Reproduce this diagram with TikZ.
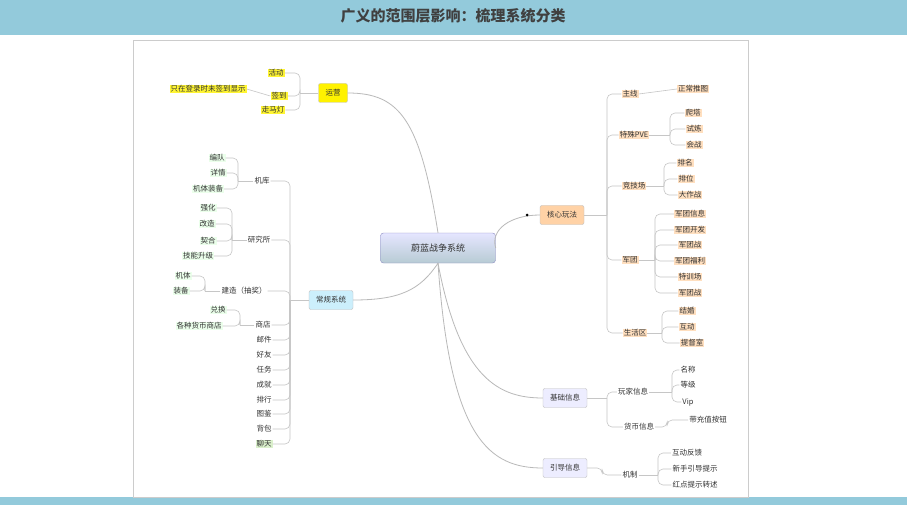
\documentclass[tikz,border=0pt]{standalone}
\usepackage{fontspec}
\setmainfont{Noto Sans CJK SC}
\definecolor{bar}{HTML}{93CADB}
\begin{document}
\begin{tikzpicture}[x=1pt,y=-1pt,font=\fontsize{7.5}{9}\selectfont,text=black!80,
  lf/.style={inner sep=1pt},
  oy/.style={lf,fill=orange!25},
  gy/.style={lf,fill=green!8},
  yy/.style={lf,fill=yellow!80},
  wy/.style={lf},
  ln/.style={draw=gray!45,line width=0.6pt,rounded corners=5pt},
  mainln/.style={draw=gray!55,line width=0.8pt},
  box/.style={rounded corners=2pt,draw=gray!50,fill=#1,minimum height=19pt,inner xsep=7pt}]
\useasboundingbox (0,0) rectangle (907,505);
\fill[white] (0,0) rectangle (907,505);
\fill[bar] (0,0) rectangle (907,35);
\fill[bar] (0,497) rectangle (907,505);
\node[font=\fontsize{15}{18}\selectfont\bfseries, text=black!75] (title) at (453,16) {广义的范围层影响：梳理系统分类};
\draw[gray!40] (133,40) rectangle (748,497);
% center
\node[rounded corners=3pt,draw=blue!30!gray!70,top color=blue!10,bottom color=blue!30!cyan!25!gray!45,minimum width=115pt,minimum height=30pt,font=\fontsize{9}{11}\selectfont] (c) at (438,248) {蔚蓝战争系统};
% main branches
\node[box=yellow] (yy) at (333,93) {运营};
\node[box=cyan!20] (cg) at (331,300) {常规系统};
\node[box=orange!35] (hx) at (562,215) {核心玩法};
\node[box=blue!7] (jc) at (565,398) {基础信息};
\node[box=blue!7] (yd) at (565,468) {引导信息};
\draw[mainln] (c.north) .. controls (420,120) and (400,93) .. (yy.east);
\draw[mainln] (c.south) .. controls (420,290) and (400,300) .. (cg.east);
\draw[mainln] (c.east) .. controls (490,230) and (510,215) .. (hx.west);
\draw[mainln] (c.south) .. controls (460,380) and (500,398) .. (jc.west);
\draw[mainln] (c.south) .. controls (450,440) and (490,468) .. (yd.west);
\fill (527,215) circle (1.5pt);
% 运营
\node[yy] (a1) at (276,73) {活动};
\node[yy] (a2) at (279,96) {签到};
\node[yy] (a3) at (273,110) {走马灯};
\node[yy] (a4) at (208,89) {只在登录时未签到显示};
\coordinate (ja) at (300,93);
\draw[ln] (yy.west) -- (ja);
\foreach \n in {a1,a2,a3} \draw[ln] (ja) |- (\n.east);
\draw[ln] (a2.west) -- (a4.east);
% 常规系统
\coordinate (jc0) at (290,300);
\draw[ln] (cg.west) -- (jc0);
\node[wy] (b1) at (262,181) {机库};
\node[wy] (b2) at (259,240) {研究所};
\node[wy] (b3) at (244,291) {建造（抽奖）};
\node[wy] (b4) at (263,325) {商店};
\node[wy] (b5) at (264,340) {邮件};
\node[wy] (b6) at (264,355) {好友};
\node[wy] (b7) at (264,370) {任务};
\node[wy] (b8) at (264,385) {成就};
\node[wy] (b9) at (264,400) {排行};
\node[wy] (b10) at (264,414) {图鉴};
\node[wy] (b11) at (264,429) {背包};
\node[lf,fill=yellow!30!green!20] (b12) at (264,444) {聊天};
\foreach \n in {b1,b2,b3,b4,b5,b6,b7,b8,b9,b10,b11,b12} \draw[ln] (jc0) |- (\n.east);
\node[gy] (c1) at (217,158) {编队};
\node[gy] (c2) at (218,173) {详情};
\node[gy] (c3) at (208,189) {机体装备};
\coordinate (jb1) at (238,181);
\draw[ln] (b1.west) -- (jb1);
\foreach \n in {c1,c2,c3} \draw[ln] (jb1) |- (\n.east);
\node[gy] (d1) at (208,208) {强化};
\node[gy] (d2) at (207,224) {改造};
\node[gy] (d3) at (208,241) {契合};
\node[gy] (d4) at (198,256) {技能升级};
\coordinate (jb2) at (232,240);
\draw[ln] (b2.west) -- (jb2);
\foreach \n in {d1,d2,d3,d4} \draw[ln] (jb2) |- (\n.east);
\node[gy] (e1) at (183,276) {机体};
\node[gy] (e2) at (181,291) {装备};
\coordinate (jb3) at (205,291);
\draw[ln] (b3.west) -- (jb3);
\foreach \n in {e1,e2} \draw[ln] (jb3) |- (\n.east);
\node[gy] (f1) at (218,310) {兑换};
\node[gy] (f2) at (199,326) {各种货币商店};
\coordinate (jb4) at (240,325);
\draw[ln] (b4.west) -- (jb4);
\foreach \n in {f1,f2} \draw[ln] (jb4) |- (\n.east);
% 核心玩法
\coordinate (jh) at (607,215);
\draw[ln] (hx.east) -- (jh);
\node[oy] (g1) at (630,94) {主线};
\node[oy] (g2) at (634,135) {特殊PVE};
\node[oy] (g3) at (634,186) {竞技场};
\node[oy] (g4) at (630,260) {军团};
\node[oy] (g5) at (635,333) {生活区};
\foreach \n in {g1,g2,g3,g4,g5} \draw[ln] (jh) |- (\n.west);
\node[oy] (h1) at (693,89) {正常推图};
\draw[ln] (g1.east) -- (h1.west);
\node[oy] (i1) at (693,113) {爬塔};
\node[oy] (i2) at (694,129) {试炼};
\node[oy] (i3) at (694,145) {会战};
\coordinate (jg2) at (670,135);
\draw[ln] (g2.east) -- (jg2);
\foreach \n in {i1,i2,i3} \draw[ln] (jg2) |- (\n.west);
\node[oy] (k1) at (685,163) {排名};
\node[oy] (k2) at (686,179) {排位};
\node[oy] (k3) at (690,195) {大作战};
\coordinate (jg3) at (664,186);
\draw[ln] (g3.east) -- (jg3);
\foreach \n in {k1,k2,k3} \draw[ln] (jg3) |- (\n.west);
\node[oy] (m1) at (690,214) {军团信息};
\node[oy] (m2) at (690,230) {军团开发};
\node[oy] (m3) at (690,245) {军团战};
\node[oy] (m4) at (690,261) {军团福利};
\node[oy] (m5) at (690,277) {特训场};
\node[oy] (m6) at (690,293) {军团战};
\coordinate (jg4) at (655,260);
\draw[ln] (g4.east) -- (jg4);
\foreach \n in {m1,m2,m3,m4,m5,m6} \draw[ln] (jg4) |- (\n.west);
\node[oy] (n1) at (687,311) {结婚};
\node[oy] (n2) at (687,327) {互动};
\node[oy] (n3) at (692,343) {提督室};
\coordinate (jg5) at (662,333);
\draw[ln] (g5.east) -- (jg5);
\foreach \n in {n1,n2,n3} \draw[ln] (jg5) |- (\n.west);
% 基础信息
\coordinate (jj) at (607,398);
\draw[ln] (jc.east) -- (jj);
\node[wy] (p1) at (633,392) {玩家信息};
\node[wy] (p2) at (639,427) {货币信息};
\foreach \n in {p1,p2} \draw[ln] (jj) |- (\n.west);
\node[wy] (q1) at (688,370) {名称};
\node[wy] (q2) at (688,385) {等级};
\node[wy] (q3) at (688,402) {Vip};
\coordinate (jp1) at (672,392);
\draw[ln] (p1.east) -- (jp1);
\foreach \n in {q1,q2,q3} \draw[ln] (jp1) |- (\n.west);
\node[wy] (q4) at (708,420) {带充值按钮};
\draw[ln] (p2.east) -- ++(12,0) |- (q4.west);
% 引导信息
\node[wy] (r0) at (630,475) {机制};
\draw[ln] (yd.east) -- ++(15,0) |- (r0.west);
\node[wy] (s1) at (687,453) {互动反馈};
\node[wy] (s2) at (695,469) {新手引导提示};
\node[wy] (s3) at (695,485) {红点提示转述};
\coordinate (jr) at (658,475);
\draw[ln] (r0.east) -- (jr);
\foreach \n in {s1,s2,s3} \draw[ln] (jr) |- (\n.west);
\end{tikzpicture}
\end{document}
